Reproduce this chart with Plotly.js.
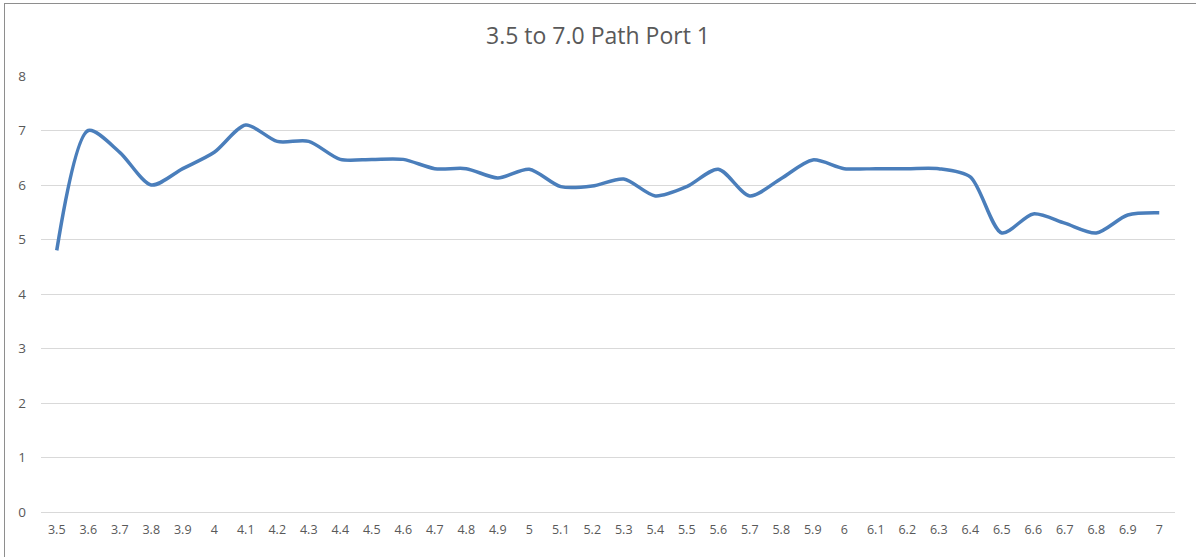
<!DOCTYPE html>
<html>
<head>
<meta charset="utf-8">
<script src="https://cdn.plot.ly/plotly-3.0.1.min.js"></script>
<style>
  body { margin: 0; background: #fff; }
  #wrap { position: relative; width: 1196px; height: 557px; overflow: hidden; }
  #chart { width: 1196px; height: 557px; }
  #frame { position: absolute; left: 4px; top: 3px; width: 1300px; height: 700px;
           border: 1px solid #8e8e8e; pointer-events: none; }
</style>
</head>
<body>
<div id="wrap">
  <div id="chart"></div>
  <div id="frame"></div>
</div>
<script>
  var categories = ['3.5', '3.6', '3.7', '3.8', '3.9', '4', '4.1', '4.2', '4.3', '4.4',
    '4.5', '4.6', '4.7', '4.8', '4.9', '5', '5.1', '5.2', '5.3', '5.4',
    '5.5', '5.6', '5.7', '5.8', '5.9', '6', '6.1', '6.2', '6.3', '6.4',
    '6.5', '6.6', '6.7', '6.8', '6.9', '7']
  var port1 = [4.8, 7.0, 6.6, 6.0, 6.3, 6.6, 7.1, 6.8, 6.8, 6.47,
    6.47, 6.47, 6.3, 6.3, 6.13, 6.29, 5.97, 5.98, 6.11, 5.8,
    5.97, 6.29, 5.8, 6.12, 6.46, 6.3, 6.3, 6.3, 6.3, 6.15,
    5.12, 5.47, 5.3, 5.12, 5.45, 5.49]
  var yTicks = [0, 1, 2, 3, 4, 5, 6, 7, 8]

  var trace1 = {
    x: categories,
    y: port1,
    type: 'scatter',
    mode: 'lines',
    line: { color: '#4a7ebb', width: 3.5, shape: 'spline', smoothing: 0.8 },
    hoverinfo: 'x+y'
  }

  var layout = {
    width: 1196,
    height: 557,
    margin: { l: 41, r: 21, t: 76, b: 45 },
    paper_bgcolor: '#ffffff',
    plot_bgcolor: '#ffffff',
    showlegend: false,
    font: { family: 'Open Sans, Noto Sans, sans-serif', color: '#595959' },
    title: {
      text: '3.5 to 7.0 Path Port 1',
      font: { size: 23, color: '#595959', family: 'Open Sans, Noto Sans, sans-serif' },
      x: 0.5, xanchor: 'center', y: 0.935, yanchor: 'middle'
    },
    xaxis: {
      type: 'category',
      range: [-0.5, 35.5],
      showgrid: false,
      zeroline: false,
      showline: false,
      ticks: '',
      tickfont: { size: 12.5, color: '#595959' },
      ticklabelstandoff: 8,
      fixedrange: true
    },
    yaxis: {
      range: [0, 8],
      tickvals: yTicks,
      showgrid: true,
      gridcolor: '#d9d9d9',
      gridwidth: 1,
      zeroline: true,
      zerolinecolor: '#d9d9d9',
      zerolinewidth: 1,
      showline: false,
      ticks: '',
      tickfont: { size: 13.5, color: '#595959' },
      ticklabelstandoff: 14,
      fixedrange: true
    }
  }

  Plotly.newPlot('chart', [trace1], layout, { displayModeBar: false, staticPlot: true })
</script>
</body>
</html>
